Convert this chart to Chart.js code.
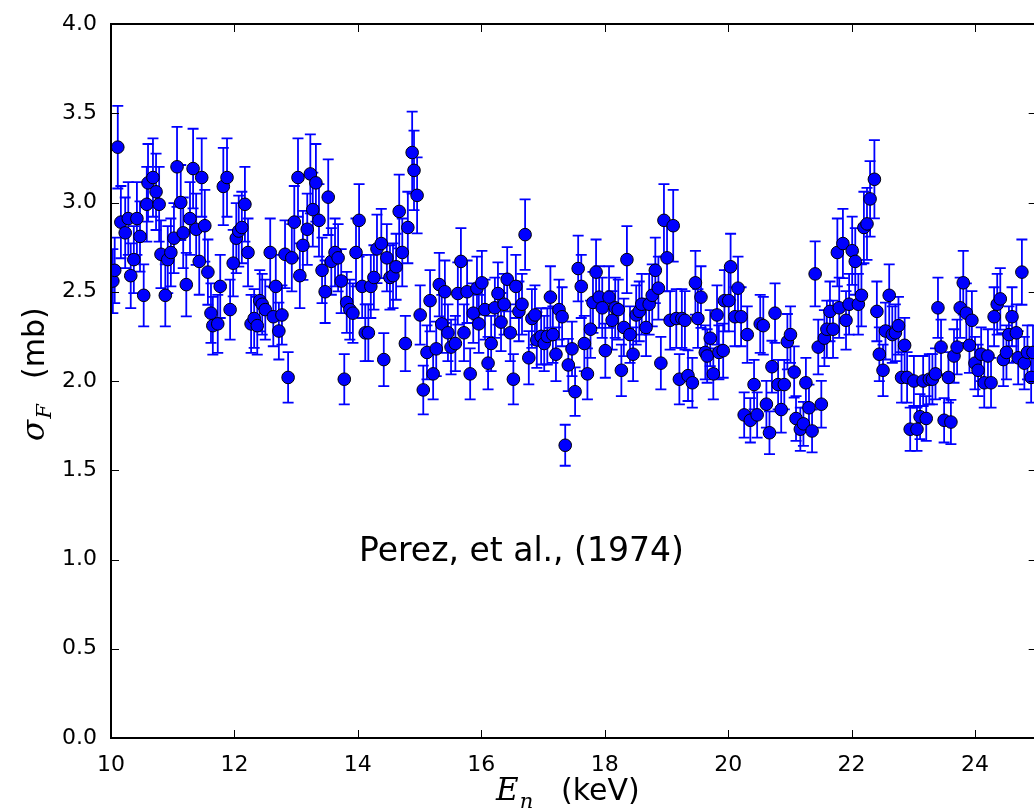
<!DOCTYPE html>
<html>
<head>
<meta charset="utf-8">
<script src="https://cdn.jsdelivr.net/npm/chart.js@4.4.1/dist/chart.umd.min.js"></script>
<style>
  html, body { margin: 0; padding: 0; background: #fff; overflow: hidden; }
  canvas { display: block; }
</style>
</head>
<body>
<canvas id="fissionChart" width="1044" height="809"></canvas>
<script>
// neutron energy (keV) and fission cross section (mb)
const energy = [
  10.03, 10.06, 10.11, 10.16, 10.23, 10.28, 10.32, 10.37, 10.42, 10.47,
  10.53, 10.58, 10.60, 10.68, 10.73, 10.78, 10.81, 10.88, 10.92, 10.97,
  11.02, 11.07, 11.13, 11.17, 11.22, 11.28, 11.33, 11.38, 11.43, 11.47,
  11.52, 11.57, 11.62, 11.65, 11.73, 11.77, 11.82, 11.88, 11.93, 11.98,
  12.03, 12.07, 12.12, 12.17, 12.22, 12.27, 12.32, 12.37, 12.41, 12.45,
  12.50, 12.58, 12.63, 12.67, 12.72, 12.77, 12.82, 12.87, 12.93, 12.97,
  13.03, 13.06, 13.11, 13.18, 13.23, 13.27, 13.32, 13.37, 13.42, 13.47,
  13.52, 13.57, 13.63, 13.68, 13.73, 13.78, 13.82, 13.87, 13.92, 13.97,
  14.02, 14.07, 14.12, 14.17, 14.21, 14.26, 14.31, 14.38, 14.42, 14.47,
  14.52, 14.57, 14.62, 14.67, 14.72, 14.77, 14.81, 14.88, 14.91, 14.96,
  15.01, 15.06, 15.12, 15.17, 15.22, 15.27, 15.32, 15.36, 15.41, 15.46,
  15.51, 15.58, 15.62, 15.67, 15.72, 15.77, 15.82, 15.87, 15.93, 15.96,
  16.01, 16.06, 16.11, 16.16, 16.22, 16.27, 16.32, 16.37, 16.42, 16.47,
  16.52, 16.56, 16.61, 16.66, 16.71, 16.77, 16.82, 16.87, 16.90, 16.97,
  17.02, 17.07, 17.12, 17.16, 17.21, 17.26, 17.31, 17.36, 17.41, 17.47,
  17.52, 17.57, 17.62, 17.67, 17.72, 17.77, 17.81, 17.86, 17.91, 17.96,
  18.01, 18.07, 18.12, 18.17, 18.22, 18.27, 18.31, 18.36, 18.41, 18.46,
  18.51, 18.56, 18.60, 18.67, 18.72, 18.77, 18.82, 18.87, 18.91, 18.96,
  19.01, 19.06, 19.11, 19.16, 19.21, 19.25, 19.30, 19.35, 19.42, 19.47,
  19.51, 19.56, 19.63, 19.66, 19.71, 19.76, 19.82, 19.85, 19.92, 19.94,
  20.01, 20.04, 20.11, 20.16, 20.21, 20.26, 20.31, 20.36, 20.42, 20.47,
  20.52, 20.57, 20.62, 20.67, 20.71, 20.76, 20.81, 20.86, 20.91, 20.96,
  21.01, 21.07, 21.10, 21.17, 21.22, 21.26, 21.31, 21.36, 21.41, 21.46,
  21.51, 21.56, 21.60, 21.65, 21.70, 21.77, 21.80, 21.86, 21.91, 21.96,
  22.01, 22.06, 22.11, 22.16, 22.20, 22.25, 22.30, 22.37, 22.41, 22.45,
  22.51, 22.55, 22.61, 22.66, 22.71, 22.76, 22.81, 22.86, 22.90, 22.95,
  23.01, 23.06, 23.11, 23.16, 23.21, 23.26, 23.31, 23.36, 23.40, 23.45,
  23.50, 23.57, 23.61, 23.66, 23.71, 23.76, 23.81, 23.86, 23.91, 23.95,
  24.00, 24.05, 24.10, 24.15, 24.21, 24.26, 24.31, 24.36, 24.41, 24.46,
  24.51, 24.55, 24.60, 24.67, 24.70, 24.76, 24.80, 24.85, 24.91, 24.94
];
const sigma = [
  2.56, 2.62, 3.31, 2.89, 2.83, 2.91, 2.59, 2.68, 2.91, 2.81,
  2.48, 2.99, 3.11, 3.14, 3.06, 2.99, 2.71, 2.48, 2.68, 2.72,
  2.80, 3.20, 3.00, 2.83, 2.54, 2.91, 3.19, 2.85, 2.67, 3.14,
  2.87, 2.61, 2.38, 2.31, 2.32, 2.53, 3.09, 3.14, 2.40, 2.66,
  2.80, 2.84, 2.86, 2.99, 2.72, 2.32, 2.35, 2.31, 2.45, 2.43,
  2.40, 2.72, 2.36, 2.53, 2.28, 2.37, 2.71, 2.02, 2.69, 2.89,
  3.14, 2.59, 2.76, 2.85, 3.16, 2.96, 3.11, 2.90, 2.62, 2.50,
  3.03, 2.67, 2.72, 2.69, 2.56, 2.01, 2.44, 2.40, 2.38, 2.72,
  2.90, 2.53, 2.27, 2.27, 2.53, 2.58, 2.74, 2.77, 2.12, 2.69,
  2.58, 2.59, 2.64, 2.95, 2.72, 2.21, 2.86, 3.28, 3.18, 3.04,
  2.37, 1.95, 2.16, 2.45, 2.04, 2.18, 2.54, 2.32, 2.50, 2.27,
  2.19, 2.21, 2.49, 2.67, 2.27, 2.50, 2.04, 2.38, 2.52, 2.32,
  2.55, 2.40, 2.10, 2.21, 2.41, 2.49, 2.33, 2.43, 2.57, 2.27,
  2.01, 2.53, 2.39, 2.43, 2.82, 2.13, 2.35, 2.37, 2.23, 2.25,
  2.21, 2.25, 2.47, 2.26, 2.15, 2.40, 2.36, 1.64, 2.09, 2.18,
  1.94, 2.63, 2.53, 2.21, 2.04, 2.29, 2.44, 2.61, 2.47, 2.41,
  2.17, 2.47, 2.34, 2.41, 2.40, 2.06, 2.30, 2.68, 2.26, 2.15,
  2.37, 2.39, 2.43, 2.30, 2.43, 2.48, 2.62, 2.52, 2.10, 2.90,
  2.69, 2.34, 2.87, 2.35, 2.01, 2.35, 2.34, 2.03, 1.99, 2.55,
  2.35, 2.47, 2.16, 2.14, 2.24, 2.04, 2.37, 2.16, 2.17, 2.45,
  2.45, 2.64, 2.36, 2.52, 2.36, 1.81, 2.26, 1.78, 1.98, 1.81,
  2.32, 2.31, 1.87, 1.71, 2.08, 2.38, 1.98, 1.84, 1.98, 2.22,
  2.26, 2.05, 1.79, 1.73, 1.76, 1.99, 1.85, 1.72, 2.60, 2.19,
  1.87, 2.24, 2.29, 2.39, 2.29, 2.72, 2.41, 2.77, 2.34, 2.43,
  2.73, 2.67, 2.43, 2.48, 2.86, 2.88, 3.02, 3.13, 2.39, 2.15,
  2.06, 2.28, 2.48, 2.26, 2.27, 2.31, 2.02, 2.20, 2.02, 1.73,
  2.00, 1.73, 1.80, 2.00, 1.79, 2.01, 2.01, 2.04, 2.41, 2.19,
  1.78, 2.02, 1.77, 2.14, 2.19, 2.41, 2.55, 2.38, 2.20, 2.34,
  2.10, 2.06, 2.15, 1.99, 2.14, 1.99, 2.36, 2.43, 2.46, 2.12,
  2.16, 2.26, 2.36, 2.27, 2.13, 2.61, 2.10, 2.16, 2.02, 2.16
];
// error bars are about 7% of each value in the picture
const relErr = 0.07;

const xTicks = [10, 12, 14, 16, 18, 20, 22, 24];
const yTicks = [0, 0.5, 1, 1.5, 2, 2.5, 3, 3.5, 4];

const tickFont = { family: 'DejaVu Sans', size: 22 };

// error bars go under the markers
const errorBars = {
  id: 'errorBars',
  beforeDatasetsDraw(chart) {
    const { ctx, chartArea: a } = chart;
    const xs = chart.scales.x, ys = chart.scales.y;
    ctx.save();
    ctx.beginPath();
    ctx.rect(a.left, a.top, a.right - a.left, a.bottom - a.top);
    ctx.clip();
    ctx.strokeStyle = '#0000ff';
    ctx.lineWidth = 1.8;
    for (let i = 0; i < energy.length; i++) {
      const px = xs.getPixelForValue(energy[i]);
      const lo = ys.getPixelForValue(sigma[i] * (1 - relErr));
      const hi = ys.getPixelForValue(sigma[i] * (1 + relErr));
      ctx.beginPath();
      ctx.moveTo(px, lo); ctx.lineTo(px, hi);
      ctx.moveTo(px - 5.5, lo); ctx.lineTo(px + 5.5, lo);
      ctx.moveTo(px - 5.5, hi); ctx.lineTo(px + 5.5, hi);
      ctx.stroke();
    }
    ctx.restore();
  }
};

// matplotlib style box with inward ticks
const frame = {
  id: 'frame',
  afterDatasetsDraw(chart) {
    const { ctx, chartArea: a } = chart;
    const xs = chart.scales.x, ys = chart.scales.y;
    ctx.save();
    ctx.strokeStyle = '#000';
    ctx.lineWidth = 1;
    ctx.beginPath();
    xTicks.forEach(v => {
      const p = Math.round(xs.getPixelForValue(v)) + 0.5;
      ctx.moveTo(p, a.bottom); ctx.lineTo(p, a.bottom - 8);
      ctx.moveTo(p, a.top); ctx.lineTo(p, a.top + 8);
    });
    yTicks.forEach(v => {
      const p = Math.round(ys.getPixelForValue(v)) + 0.5;
      ctx.moveTo(a.left, p); ctx.lineTo(a.left + 8, p);
      ctx.moveTo(a.right, p); ctx.lineTo(a.right - 8, p);
    });
    ctx.stroke();
    ctx.lineWidth = 2;
    ctx.strokeRect(a.left, a.top, a.right - a.left, a.bottom - a.top);
    ctx.restore();
  }
};

const labels = {
  id: 'labels',
  afterDraw(chart) {
    const ctx = chart.ctx;
    ctx.save();
    ctx.fillStyle = '#000';
    ctx.textBaseline = 'alphabetic';
    ctx.textAlign = 'left';

    ctx.font = '33px "DejaVu Sans"';
    ctx.fillText('Perez, et al., (1974)', 359, 561);

    // x axis title
    ctx.font = 'italic 31px "DejaVu Serif"';
    ctx.fillText('E', 496, 800);
    let w = ctx.measureText('E').width;
    ctx.font = 'italic 21px "DejaVu Serif"';
    ctx.fillText('n', 496 + w + 1, 808);
    ctx.font = '30px "DejaVu Sans"';
    ctx.fillText('(keV)', 561, 800);

    // y axis title
    ctx.translate(44, 441);
    ctx.rotate(-Math.PI / 2);
    ctx.font = 'italic 31px "DejaVu Serif"';
    ctx.fillText('\u03c3', 0, 0);
    w = ctx.measureText('\u03c3').width;
    ctx.font = 'italic 21px "DejaVu Serif"';
    ctx.fillText('F', w + 1, 7);
    ctx.font = '30px "DejaVu Sans"';
    ctx.fillText('(mb)', 62, 0);
    ctx.restore();
  }
};

new Chart(document.getElementById('fissionChart'), {
  type: 'scatter',
  data: {
    datasets: [{
      data: energy.map((e, i) => ({ x: e, y: sigma[i] })),
      pointRadius: 6.3,
      pointHoverRadius: 6.3,
      pointBackgroundColor: '#0000ff',
      pointBorderColor: '#000',
      pointBorderWidth: 1
    }]
  },
  options: {
    responsive: false,
    animation: false,
    devicePixelRatio: 1,
    events: [],
    layout: { padding: { top: 24, right: 0, left: 0, bottom: 0 } },
    plugins: { legend: { display: false }, tooltip: { enabled: false } },
    scales: {
      x: {
        type: 'linear',
        min: 10,
        max: 25,
        grid: { display: false },
        border: { display: false },
        afterBuildTicks: s => { s.ticks = xTicks.map(v => ({ value: v })); },
        afterFit: s => { s.height = 71; },
        ticks: { font: tickFont, color: '#000', padding: 6, maxRotation: 0, callback: v => String(v) }
      },
      y: {
        type: 'linear',
        min: 0,
        max: 4,
        grid: { display: false },
        border: { display: false },
        afterBuildTicks: s => { s.ticks = yTicks.map(v => ({ value: v })); },
        afterFit: s => { s.width = 111; },
        ticks: { font: tickFont, color: '#000', padding: 6, callback: v => v.toFixed(1) }
      }
    }
  },
  plugins: [errorBars, frame, labels]
});
</script>
</body>
</html>
